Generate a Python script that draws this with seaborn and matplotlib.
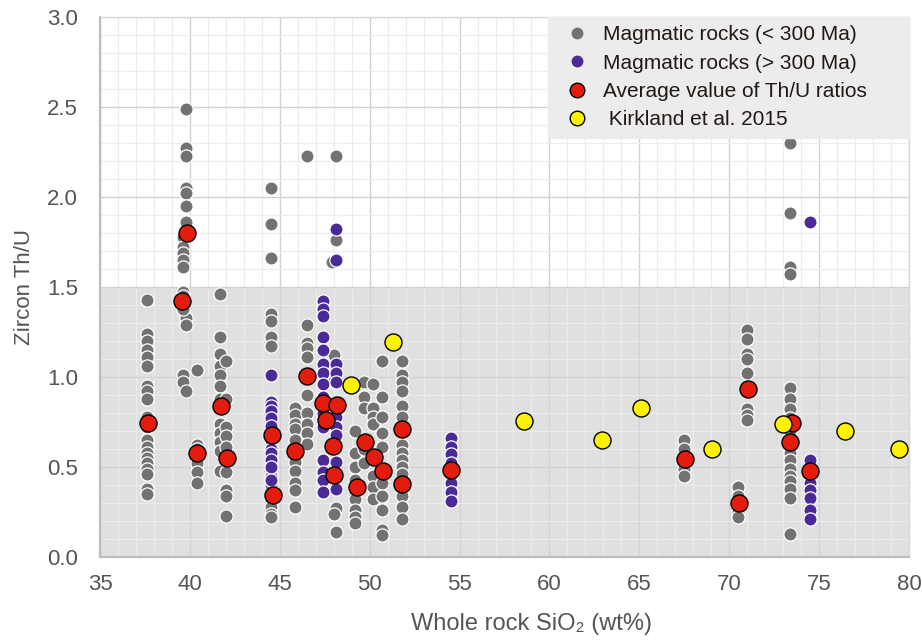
import matplotlib
matplotlib.use("Agg")
import matplotlib.pyplot as plt
from matplotlib.lines import Line2D
from matplotlib.ticker import MultipleLocator, FormatStrFormatter
import seaborn as sns
import pandas as pd

# ---------------- data ----------------
young_sio2 = (
    [37.6, 37.6, 37.6, 37.6, 37.6, 37.6, 37.6, 37.6, 37.6, 37.6,
     37.6, 37.6, 37.6, 37.6, 37.6, 37.6, 37.6, 37.6, 37.6, 37.6] +
    [39.8, 39.8, 39.8, 39.8, 39.8, 39.8, 39.8, 39.8, 39.8,
     39.6, 39.6, 39.6, 39.6, 39.6, 39.6, 39.6, 39.6, 39.6, 39.6, 39.8] +
    [40.4, 40.4, 40.4, 40.4, 40.4, 40.4, 40.4] +
    [41.7, 41.7, 41.7, 41.7, 41.7, 41.7, 41.7, 41.7, 41.7, 41.7, 41.7, 41.7] +
    [42.0, 42.0, 42.0, 42.0, 42.0, 42.0, 42.0, 42.0, 42.0] +
    [44.5, 44.5, 44.5, 44.5, 44.5, 44.5, 44.5, 44.5, 44.5, 44.5, 44.5, 44.5, 44.5] +
    [45.85, 45.85, 45.85, 45.85, 45.85, 45.85, 45.85, 45.85, 45.85, 45.85] +
    [46.5, 46.5, 46.5, 46.5, 46.5, 46.5, 46.5, 46.5, 46.5, 46.5] +
    [48.1, 48.1, 47.9, 48.0, 48.0, 48.1, 48.0, 48.1] +
    [49.2, 49.2, 49.2, 49.2, 49.2, 49.2, 49.2, 49.2, 49.2] +
    [49.7, 49.7, 49.7, 49.7, 49.7] +
    [50.2, 50.2, 50.2, 50.2, 50.2, 50.2, 50.2] +
    [50.7, 50.7, 50.7, 50.7, 50.7, 50.7, 50.7, 50.7, 50.7, 50.7] +
    [51.8, 51.8, 51.8, 51.8, 51.8, 51.8, 51.8, 51.8, 51.8, 51.8, 51.8, 51.8, 51.8, 51.8] +
    [67.5, 67.5, 67.5, 67.5] +
    [70.5, 70.5, 70.5, 70.5] +
    [71.0, 71.0, 71.0, 71.0, 71.0, 71.0, 71.0, 71.0] +
    [73.4, 73.4, 73.4, 73.4, 73.4, 73.4, 73.4, 73.4, 73.4, 73.4,
     73.4, 73.4, 73.4, 73.4, 73.4, 73.4, 73.4]
)
young_thu = (
    [1.43, 1.24, 1.20, 1.15, 1.11, 1.06, 0.95, 0.92, 0.88, 0.78,
     0.72, 0.65, 0.61, 0.58, 0.55, 0.52, 0.49, 0.46, 0.38, 0.35] +
    [2.49, 2.27, 2.23, 2.05, 2.02, 1.95, 1.86, 1.33, 1.29,
     1.78, 1.72, 1.69, 1.65, 1.61, 1.47, 1.45, 1.38, 1.01, 0.97, 0.92] +
    [1.04, 0.62, 0.60, 0.56, 0.52, 0.47, 0.41] +
    [1.46, 1.22, 1.13, 1.06, 1.01, 0.95, 0.88, 0.74, 0.69, 0.64, 0.59, 0.48] +
    [1.09, 0.88, 0.72, 0.67, 0.61, 0.47, 0.37, 0.34, 0.23] +
    [2.05, 1.85, 1.66, 1.35, 1.31, 1.22, 1.17, 0.45, 0.40, 0.31, 0.28, 0.24, 0.22] +
    [0.83, 0.79, 0.74, 0.71, 0.65, 0.53, 0.48, 0.41, 0.37, 0.28] +
    [2.23, 1.29, 1.19, 1.16, 1.11, 0.90, 0.80, 0.74, 0.69, 0.63] +
    [2.23, 1.76, 1.64, 1.12, 0.98, 0.27, 0.24, 0.14] +
    [0.70, 0.58, 0.50, 0.43, 0.35, 0.32, 0.26, 0.22, 0.19] +
    [0.97, 0.89, 0.83, 0.60, 0.52] +
    [0.96, 0.83, 0.78, 0.74, 0.45, 0.39, 0.32] +
    [1.09, 0.89, 0.78, 0.69, 0.61, 0.41, 0.34, 0.26, 0.15, 0.12] +
    [1.09, 1.01, 0.97, 0.92, 0.84, 0.78, 0.62, 0.58, 0.54, 0.50, 0.46, 0.34, 0.28, 0.21] +
    [0.65, 0.60, 0.49, 0.45] +
    [0.39, 0.34, 0.25, 0.22] +
    [1.26, 1.21, 1.13, 1.10, 1.02, 0.82, 0.79, 0.76] +
    [2.30, 1.91, 1.61, 1.57, 0.94, 0.88, 0.82, 0.77, 0.70, 0.58,
     0.54, 0.49, 0.45, 0.42, 0.38, 0.33, 0.13]
)

old_sio2 = (
    [44.5, 44.5, 44.5, 44.5, 44.5, 44.5, 44.5, 44.5, 44.5, 44.5, 44.5, 44.5] +
    [47.4, 47.4, 47.4, 47.4, 47.4, 47.4, 47.4, 47.4, 47.4, 47.4, 47.4, 47.4, 47.4, 47.4, 47.4] +
    [48.1, 48.1, 48.1, 48.1, 48.1, 48.1, 48.1, 48.1, 48.1, 48.1] +
    [54.5, 54.5, 54.5, 54.5, 54.5, 54.5, 54.5, 54.5] +
    [74.5, 74.5, 74.5, 74.5, 74.5, 74.5, 74.5]
)
old_thu = (
    [1.01, 0.86, 0.84, 0.81, 0.77, 0.73, 0.65, 0.60, 0.58, 0.54, 0.50, 0.43] +
    [1.42, 1.38, 1.34, 1.22, 1.15, 1.07, 1.02, 0.96, 0.89, 0.80, 0.72, 0.54, 0.47, 0.43, 0.36] +
    [1.82, 1.65, 1.07, 1.02, 0.97, 0.78, 0.72, 0.68, 0.53, 0.38] +
    [0.66, 0.61, 0.57, 0.52, 0.45, 0.41, 0.36, 0.31] +
    [1.86, 0.54, 0.41, 0.37, 0.33, 0.26, 0.21]
)

avg_sio2 = [37.67, 39.54, 39.82, 40.41, 41.73, 42.06, 44.55, 44.60, 45.85, 46.53,
            47.42, 47.57, 47.98, 48.16, 48.03, 49.29, 49.76, 50.26, 50.74, 51.78,
            51.78, 54.50, 67.55, 70.56, 71.06, 73.47, 73.39, 74.52]
avg_thu = [0.746, 1.42, 1.80, 0.58, 0.837, 0.548, 0.676, 0.346, 0.59, 1.007,
           0.857, 0.759, 0.617, 0.844, 0.457, 0.39, 0.639, 0.556, 0.476, 0.713,
           0.405, 0.483, 0.543, 0.298, 0.935, 0.743, 0.641, 0.476]

kirk_sio2 = [48.96, 51.30, 58.58, 62.92, 65.07, 69.02, 72.97, 76.43, 79.44]
kirk_thu = [0.954, 1.194, 0.756, 0.650, 0.828, 0.598, 0.739, 0.700, 0.600]

legend_labels = ["Magmatic rocks (< 300 Ma)", "Magmatic rocks (> 300 Ma)",
                 "Average value of Th/U ratios", " Kirkland et al. 2015"]

# ---------------- style ----------------
sns.set_style("white")
plt.rcParams["font.family"] = ["Liberation Sans", "DejaVu Sans"]

C_GRAY = "#747171"
C_PURPLE = "#4b2a98"
C_RED = "#e31c0e"
C_YELLOW = "#fff200"

fig = plt.figure(figsize=(9.22, 6.4), dpi=100)
ax = fig.add_axes([0.10846, 0.1297, 0.87744, 0.84375])
ax.set_facecolor("white")

ax.axhspan(0, 1.5, color="#e0e0e0", zorder=0, lw=0)

df_y = pd.DataFrame({"sio2": young_sio2, "thu": young_thu})
df_o = pd.DataFrame({"sio2": old_sio2, "thu": old_thu})
df_a = pd.DataFrame({"sio2": avg_sio2, "thu": avg_thu})
df_k = pd.DataFrame({"sio2": kirk_sio2, "thu": kirk_thu})

sns.scatterplot(data=df_y, x="sio2", y="thu", ax=ax, color=C_GRAY, s=90,
                edgecolor="white", linewidth=0.9, zorder=3, legend=False)
sns.scatterplot(data=df_o, x="sio2", y="thu", ax=ax, color=C_PURPLE, s=90,
                edgecolor="white", linewidth=0.9, zorder=4, legend=False)
sns.scatterplot(data=df_a, x="sio2", y="thu", ax=ax, color=C_RED, s=150,
                edgecolor="black", linewidth=1.0, zorder=5, legend=False)
sns.scatterplot(data=df_k, x="sio2", y="thu", ax=ax, color=C_YELLOW, s=150,
                edgecolor="black", linewidth=1.0, zorder=6, legend=False)

ax.set_xlim(35, 80)
ax.set_ylim(0, 3.0)
ax.xaxis.set_major_locator(MultipleLocator(5))
ax.xaxis.set_minor_locator(MultipleLocator(1))
ax.yaxis.set_major_locator(MultipleLocator(0.5))
ax.yaxis.set_minor_locator(MultipleLocator(0.1))
ax.yaxis.set_major_formatter(FormatStrFormatter("%.1f"))
ax.grid(which="major", color="#d2d2d2", lw=1.0, zorder=1)
ax.grid(which="minor", color="#ececec", lw=0.8, zorder=1)
ax.set_axisbelow(True)

ax.tick_params(which="both", length=0)
ax.tick_params(axis="x", labelsize=16, labelcolor="#555555", pad=12)
ax.tick_params(axis="y", labelsize=16, labelcolor="#555555", pad=16)

for side in ("left", "bottom"):
    ax.spines[side].set_color("#bdbdbd")
    ax.spines[side].set_linewidth(1.6)
for side in ("top", "right"):
    ax.spines[side].set_color("#d8d8d8")
    ax.spines[side].set_linewidth(1.0)

ax.set_xlabel("Whole rock SiO\u2082 (wt%)", fontsize=17, color="#555555")
ax.xaxis.set_label_coords(0.533, -0.103)
ax.set_ylabel("Zircon Th/U", fontsize=16, color="#555555")
ax.yaxis.set_label_coords(-0.080, 0.5)

handles = [
    Line2D([], [], ls="none", marker="o", markersize=7.5, markerfacecolor=C_GRAY,
           markeredgecolor=C_GRAY),
    Line2D([], [], ls="none", marker="o", markersize=7.5, markerfacecolor=C_PURPLE,
           markeredgecolor=C_PURPLE),
    Line2D([], [], ls="none", marker="o", markersize=10.5, markerfacecolor=C_RED,
           markeredgecolor="black", markeredgewidth=1.0),
    Line2D([], [], ls="none", marker="o", markersize=10.5, markerfacecolor=C_YELLOW,
           markeredgecolor="black", markeredgewidth=1.0),
]
leg = ax.legend(handles, legend_labels, loc="upper left",
                bbox_to_anchor=(0.554, 0.0, 0.446, 1.0), mode="expand",
                fontsize=15, frameon=True, fancybox=False, borderaxespad=0.0,
                handlelength=2.0, handletextpad=0.25, labelspacing=0.45,
                borderpad=0.4)
leg.get_frame().set_facecolor("#ececec")
leg.get_frame().set_edgecolor("#ececec")
leg.get_frame().set_alpha(1.0)
leg.set_zorder(10)
for t in leg.get_texts():
    t.set_color("#231815")

fig.savefig("out.png", dpi=100)
